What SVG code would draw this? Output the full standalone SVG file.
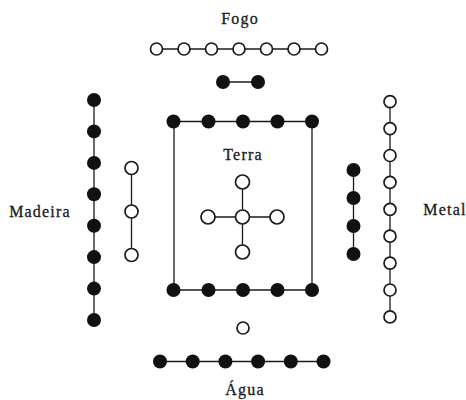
<svg xmlns="http://www.w3.org/2000/svg" width="466" height="400" viewBox="0 0 466 400">
<style>
.lbl{font-family:"Liberation Serif","Times New Roman",serif;font-size:16px;letter-spacing:1.2px;fill:#1a1a1a;stroke:#1a1a1a;stroke-width:0.3;text-anchor:middle}
.o{fill:#fff;stroke:#1a1a1a;stroke-width:1.7}
.f{fill:#111;stroke:none}
.ln{stroke:#1a1a1a;stroke-width:1.3;fill:none}
</style>
<rect width="466" height="400" fill="#fff"/>
<g id="connectors">
<line class="ln" x1="156.5" y1="49" x2="321.5" y2="49"/>
<line class="ln" x1="223" y1="82" x2="258" y2="82"/>
<line class="ln" x1="94" y1="100" x2="94" y2="320"/>
<line class="ln" x1="131.5" y1="168" x2="131.5" y2="255"/>
<line class="ln" x1="390" y1="101.7" x2="390" y2="316.9"/>
<line class="ln" x1="353.5" y1="170" x2="353.5" y2="254"/>
<line class="ln" x1="173.5" y1="121.5" x2="312" y2="121.5"/>
<line class="ln" x1="173.5" y1="290" x2="312" y2="290"/>
<line class="ln" x1="174" y1="121.5" x2="174" y2="290"/>
<line class="ln" x1="312" y1="121.5" x2="312" y2="290"/>
<line class="ln" x1="208" y1="217" x2="277" y2="217"/>
<line class="ln" x1="242.5" y1="182" x2="242.5" y2="252"/>
<line class="ln" x1="160" y1="361.5" x2="323.5" y2="361.5"/>
</g>
<g id="fogo">
<text class="lbl" x="240" y="24">Fogo</text>
<circle class="o" cx="156.5" cy="49" r="6"/><circle class="o" cx="184" cy="49" r="6"/><circle class="o" cx="211.5" cy="49" r="6"/><circle class="o" cx="239" cy="49" r="6"/><circle class="o" cx="266.5" cy="49" r="6"/><circle class="o" cx="294" cy="49" r="6"/><circle class="o" cx="321.5" cy="49" r="6"/>
<circle class="f" cx="223" cy="82" r="7"/><circle class="f" cx="258" cy="82" r="7"/>
</g>
<g id="madeira">
<text class="lbl" x="40" y="216.5">Madeira</text>
<circle class="f" cx="94" cy="100" r="7"/><circle class="f" cx="94" cy="131.4" r="7"/><circle class="f" cx="94" cy="162.9" r="7"/><circle class="f" cx="94" cy="194.3" r="7"/><circle class="f" cx="94" cy="225.7" r="7"/><circle class="f" cx="94" cy="257.1" r="7"/><circle class="f" cx="94" cy="288.6" r="7"/><circle class="f" cx="94" cy="320" r="7"/>
<circle class="o" cx="131.5" cy="168" r="6.5"/><circle class="o" cx="131.5" cy="211.5" r="6.5"/><circle class="o" cx="131.5" cy="255" r="6.5"/>
</g>
<g id="metal">
<text class="lbl" x="445" y="215">Metal</text>
<circle class="o" cx="390" cy="101.7" r="6"/><circle class="o" cx="390" cy="128.6" r="6"/><circle class="o" cx="390" cy="155.5" r="6"/><circle class="o" cx="390" cy="182.4" r="6"/><circle class="o" cx="390" cy="209.3" r="6"/><circle class="o" cx="390" cy="236.2" r="6"/><circle class="o" cx="390" cy="263.1" r="6"/><circle class="o" cx="390" cy="290" r="6"/><circle class="o" cx="390" cy="316.9" r="6"/>
<circle class="f" cx="353.5" cy="170" r="7"/><circle class="f" cx="353.5" cy="198" r="7"/><circle class="f" cx="353.5" cy="226" r="7"/><circle class="f" cx="353.5" cy="254" r="7"/>
</g>
<g id="terra">
<text class="lbl" x="243" y="159.5">Terra</text>
<circle class="f" cx="173.5" cy="121.5" r="7"/><circle class="f" cx="208.5" cy="121.5" r="7"/><circle class="f" cx="243" cy="121.5" r="7"/><circle class="f" cx="277.5" cy="121.5" r="7"/><circle class="f" cx="312" cy="121.5" r="7"/>
<circle class="f" cx="173.5" cy="290" r="7"/><circle class="f" cx="208.5" cy="290" r="7"/><circle class="f" cx="243" cy="290" r="7"/><circle class="f" cx="277.5" cy="290" r="7"/><circle class="f" cx="312" cy="290" r="7"/>
<circle class="o" cx="242.5" cy="217" r="7"/><circle class="o" cx="208" cy="217" r="7"/><circle class="o" cx="277" cy="217" r="7"/><circle class="o" cx="242.5" cy="182" r="7"/><circle class="o" cx="242.5" cy="252" r="7"/>
</g>
<g id="agua">
<circle class="o" cx="243" cy="328" r="6"/>
<circle class="f" cx="160" cy="361.5" r="7"/><circle class="f" cx="192.7" cy="361.5" r="7"/><circle class="f" cx="225.4" cy="361.5" r="7"/><circle class="f" cx="258.1" cy="361.5" r="7"/><circle class="f" cx="290.8" cy="361.5" r="7"/><circle class="f" cx="323.5" cy="361.5" r="7"/>
<text class="lbl" x="245" y="395">Água</text>
</g>
</svg>
